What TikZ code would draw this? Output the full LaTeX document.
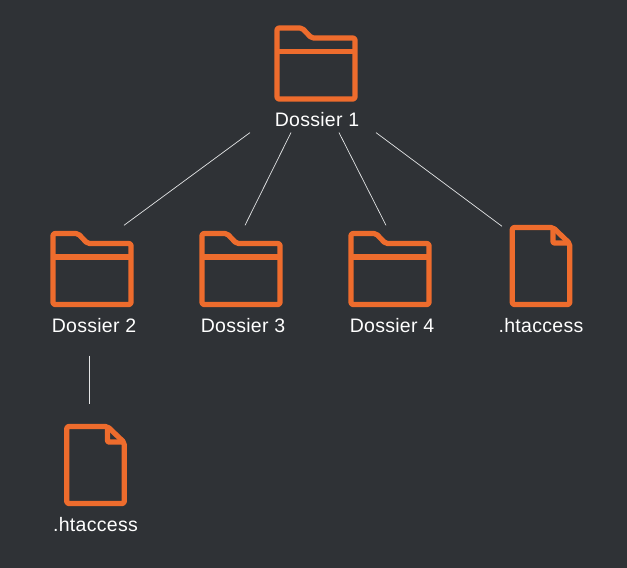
\documentclass[tikz,border=0pt]{standalone}
\usepackage{fontspec}
\setmainfont{Liberation Sans}[LetterSpace=1.5]
\usepackage{xcolor}
\definecolor{slateBg}{HTML}{2F3236}
\definecolor{iconOrange}{HTML}{EE6C2D}
\definecolor{linkGrey}{HTML}{E4E5E6}
\usetikzlibrary{positioning}

\tikzset{
    pics/folder/.style={code={
        \draw[icon] (-39,35.5) -- (-39,-35.5) -- (-14,-35.5) -- (-4.5,-25.5)
              -- (39,-25.5) -- (39,35.5) -- cycle;
        \draw[iconOrange, line width=5.2pt] (-39,-12) -- (39,-12);
    }},
    pics/document/.style={code={
        \draw[icon] (-28.75,38.5) -- (-28.75,-38.5) -- (12,-38.5) -- (28.75,-22.5)
              -- (28.75,38.5) -- cycle;
        \draw[icon, rounded corners=1pt] (12,-38.5) -- (12,-23) -- (28.75,-23);
    }}
}

\begin{document}
\begin{tikzpicture}[
    x=1pt, y=-1pt,
    icon/.style={draw=iconOrange, line width=5.2pt, rounded corners=2pt, line join=round},
    folderbox/.style={rectangle, minimum width=82pt, minimum height=76pt, inner sep=0pt},
    filebox/.style={rectangle, minimum width=62pt, minimum height=81pt, inner sep=0pt},
    caption/.style={inner sep=0pt, text height=13pt, text depth=0pt, text=white, font=\fontsize{19.5}{21}\selectfont},
    link/.style={draw=linkGrey, line width=0.7pt}
]
    \path[use as bounding box, fill=slateBg] (0,0) rectangle (627,568);

    % icons
    \node[folderbox] (f1) at (316,63.5) {};
    \node[folderbox] (f2) at (92,269)   {};
    \node[folderbox] (f3) at (241,269)  {};
    \node[folderbox] (f4) at (390,269)  {};
    \node[filebox]   (h1) at (541,266)  {};
    \node[filebox]   (h2) at (95.5,465) {};
    \pic at (f1) {folder};
    \pic at (f2) {folder};
    \pic at (f3) {folder};
    \pic at (f4) {folder};
    \pic at (h1) {document};
    \pic at (h2) {document};

    % labels
    \node[caption, below=11.5pt of f1, xshift=1pt] (d1) {Dossier 1};
    \node[caption, below=12.5pt of f2, xshift=2pt] (d2) {Dossier 2};
    \node[caption, below=12.5pt of f3, xshift=2pt] (d3) {Dossier 3};
    \node[caption, below=12.5pt of f4, xshift=2pt] (d4) {Dossier 4};
    \node[caption, below=13pt of h1]               (t1) {.htaccess};
    \node[caption, below=12.5pt of h2]             (t2) {.htaccess};

    % links
    \draw[link] ([shift={(-67,6)}]d1.south) -- ([shift={(32,-5.5)}]f2.north);
    \draw[link] ([shift={(-26,6)}]d1.south) -- ([shift={(4,-5.5)}]f3.north);
    \draw[link] ([shift={(22,6)}]d1.south)  -- ([shift={(-4,-5.5)}]f4.north);
    \draw[link] ([shift={(59,6)}]d1.south)  -- ([shift={(-39,1)}]h1.north);
    \draw[link] ([shift={(-5,22.5)}]d2.south) -- ([shift={(-6.5,-20.5)}]h2.north);
\end{tikzpicture}
\end{document}
